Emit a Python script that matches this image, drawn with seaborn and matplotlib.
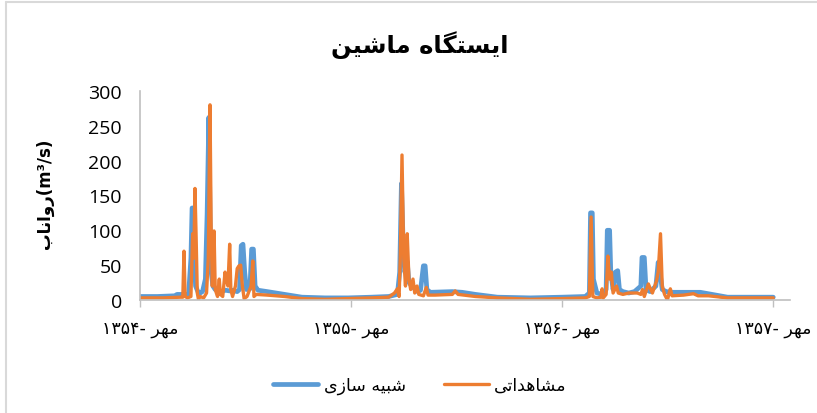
import numpy as np
import pandas as pd
import matplotlib
matplotlib.use("Agg")
import matplotlib.pyplot as plt
import seaborn as sns
from matplotlib.lines import Line2D

# days counted from 1 Mehr 1354
sim_day = [0, 30, 60, 64, 84, 88, 90, 92, 94, 96, 100, 104, 108, 113, 116, 119, 121, 123, 126,
           130, 136, 140, 148, 155, 160, 168, 172, 175, 178, 181, 184, 190, 193, 196, 199, 204,
           220, 250, 280, 320, 360, 400, 430, 445, 449, 452, 455, 458, 462, 465, 470, 476, 480,
           485, 490, 493, 496, 502, 540, 557, 580, 618, 675, 730, 770, 777, 779, 782, 784, 790,
           800, 806, 808, 812, 814, 818, 822, 826, 829, 835, 845, 855, 866, 868, 872, 875, 882,
           892, 896, 899, 903, 910, 922, 969, 1016, 1095]
sim_val = [5, 5, 6, 8, 8, 60, 132, 132, 60, 20, 12, 10, 12, 30, 123, 262, 120, 40, 20,
           15, 14, 12, 14, 13, 14, 12, 15, 78, 80, 40, 15, 16, 73, 73, 20, 14,
           12, 8, 4, 3, 3, 4, 5, 8, 40, 167, 80, 40, 55, 25, 20, 15, 12,
           14, 49, 49, 15, 11, 12, 11, 8, 4, 3, 4, 5, 10, 125, 125, 30, 10,
           8, 15, 100, 100, 40, 15, 40, 42, 15, 12, 10, 12, 20, 61, 61, 15, 12,
           20, 54, 40, 15, 12, 11, 11, 4, 4]

obs_day = [0, 40, 70, 74, 76, 78, 82, 88, 91, 93, 95, 97, 99, 101, 104, 110, 115, 118, 121,
           123, 125, 128, 130, 134, 137, 139, 143, 147, 149, 152, 155, 157, 160, 165, 168, 171,
           174, 177, 180, 185, 192, 195, 197, 201, 220, 250, 280, 320, 360, 400, 430, 440, 445,
           448, 450, 453, 456, 459, 462, 465, 468, 472, 475, 479, 482, 490, 495, 498, 510, 540,
           545, 550, 580, 618, 675, 730, 770, 777, 780, 783, 790, 797, 799, 801, 806, 809, 812,
           815, 818, 824, 827, 835, 845, 860, 866, 869, 872, 879, 882, 886, 893, 896, 900, 903,
           907, 912, 915, 917, 920, 940, 957, 965, 983, 1016, 1095]
obs_val = [3, 3, 4, 4, 70, 5, 3, 5, 95, 60, 160, 90, 10, 1, 5, 3, 10, 60, 280,
           100, 20, 99, 15, 5, 30, 8, 5, 40, 30, 20, 80, 15, 5, 20, 45, 49,
           50, 20, 2, 5, 20, 56, 5, 8, 7, 5, 2, 1, 2, 3, 4, 10, 16,
           5, 60, 208, 60, 20, 95, 30, 15, 30, 10, 20, 8, 6, 18, 7, 7, 8,
           13, 8, 5, 3, 1, 2, 3, 5, 119, 5, 3, 4, 16, 3, 8, 63, 30,
           40, 10, 20, 10, 8, 10, 10, 8, 15, 5, 23, 17, 10, 27, 40, 95, 20,
           8, 0, 10, 16, 6, 7, 9, 6, 6, 3, 3]

tick_days = [0, 365, 730, 1095]
# Persian text written in visual (left-to-right) order with presentation forms
mehr = "\uFEAE\uFEEC\uFEE3"
tick_labels = ["\u06F1\u06F3\u06F5\u06F4- " + mehr,
               "\u06F1\u06F3\u06F5\u06F5- " + mehr,
               "\u06F1\u06F3\u06F5\u06F6- " + mehr,
               "\u06F1\u06F3\u06F5\u06F7- " + mehr]
title = "\uFEE6\uFEF4\uFEB7\uFE8E\uFEE3 \uFEE9\uFE8E\uFB95\uFE98\uFEB4\uFEF3\uFE8D"
ylabel = "\uFE8F\uFE8E\uFEE7\uFE8D\uFEED\uFEAD(m\u00B3/s)"
sim_name = "\uFEEF\uFEAF\uFE8E\uFEB3 \uFEEA\uFEF4\uFE92\uFEB7"
obs_name = "\uFEF0\uFE97\uFE8D\uFEAA\uFEEB\uFE8E\uFEB8\uFEE3"

sns.set_style("white")
plt.rcParams['font.family'] = ['Open Sans', 'DejaVu Sans']
plt.rcParams['text.color'] = 'black'
plt.rcParams['xtick.color'] = 'black'
plt.rcParams['ytick.color'] = 'black'

sim = pd.DataFrame({'day': sim_day, 'flow': sim_val})
obs = pd.DataFrame({'day': obs_day, 'flow': obs_val})

fig = plt.figure(figsize=(8.17, 4.14), dpi=100)
ax = fig.add_axes([0.1714, 0.273, 0.7956, 0.505])

sns.lineplot(data=sim, x='day', y='flow', ax=ax, color='#5B9BD5', linewidth=3.4,
             label=sim_name, solid_capstyle='round', solid_joinstyle='round')
sns.lineplot(data=obs, x='day', y='flow', ax=ax, color='#ED7D31', linewidth=2.4,
             label=obs_name, solid_capstyle='round', solid_joinstyle='round')

ax.set_xlim(0, 1124)
ax.set_ylim(0, 300)
ax.set_yticks([0, 50, 100, 150, 200, 250, 300])
ax.tick_params(axis='y', length=0, pad=13, labelsize=14, labelcolor='black')
ax.set_xticks(tick_days)
ax.set_xticklabels(tick_labels, family=['DejaVu Sans'], fontsize=12.5)
ax.tick_params(axis='x', length=5, width=1, color='#BFBFBF', pad=9, direction='out',
               labelcolor='black')
ax.xaxis.set_ticks_position('bottom')
ax.set_xlabel('')
ax.set_ylabel('')
for s in ['top', 'right']:
    ax.spines[s].set_visible(False)
for s in ['left', 'bottom']:
    ax.spines[s].set_color('#BFBFBF')
    ax.spines[s].set_linewidth(1.2)

fig.text(0.514, 0.891, title, ha='center', va='center', fontsize=17.5,
         fontweight='bold', family=['DejaVu Sans'], color='black')
fig.text(45 / 817, 0.533, ylabel, ha='center', va='center', rotation=90,
         fontsize=12, fontweight='bold', family=['DejaVu Sans'], color='black')

ax.legend(loc='center', bbox_to_anchor=(0.514, 0.068), bbox_transform=fig.transFigure,
          ncol=2, frameon=False, handlelength=2.6, handletextpad=0.3,
          columnspacing=2.2, prop={'family': ['DejaVu Sans'], 'size': 12.5})

fig.add_artist(Line2D([6 / 817, 6 / 817], [0, 1 - 3 / 414], transform=fig.transFigure,
                      color='#D9D9D9', linewidth=1.5))
fig.add_artist(Line2D([6 / 817, 1], [1 - 3 / 414, 1 - 3 / 414], transform=fig.transFigure,
                      color='#D9D9D9', linewidth=1.5))

fig.savefig('out.png', dpi=100)
